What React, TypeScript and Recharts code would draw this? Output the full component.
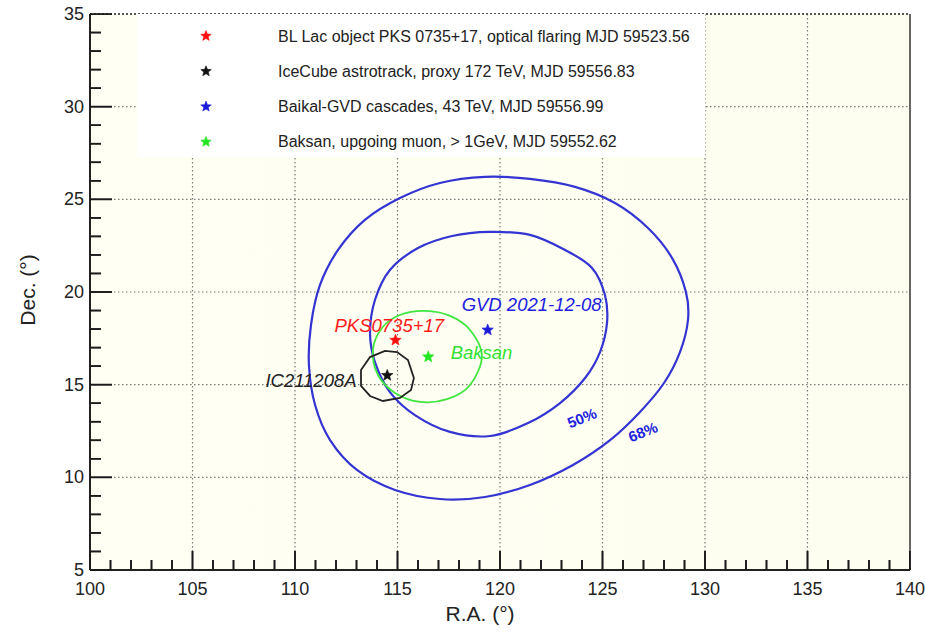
import React from 'react';
import { ScatterChart, Scatter, XAxis, YAxis, CartesianGrid, ReferenceLine, Legend } from 'recharts';

const FONT = '"Liberation Sans", Arial, Helvetica, sans-serif';

// ---- axis ticks ----
const raTicks = [100, 101, 102, 103, 104, 105, 106, 107, 108, 109, 110, 111, 112, 113, 114, 115, 116, 117, 118, 119, 120, 121, 122, 123, 124, 125, 126, 127, 128, 129, 130, 131, 132, 133, 134, 135, 136, 137, 138, 139, 140];
const raLabelTicks = [100, 105, 110, 115, 120, 125, 130, 135, 140];
const decTicks = [5, 6, 7, 8, 9, 10, 11, 12, 13, 14, 15, 16, 17, 18, 19, 20, 21, 22, 23, 24, 25, 26, 27, 28, 29, 30, 31, 32, 33, 34, 35];
const decLabelTicks = [5, 10, 15, 20, 25, 30, 35];
const raGrid = [105, 110, 115, 120, 125, 130, 135];
const decGrid = [10, 15, 20, 25, 30, 35];

// ---- sources ----
const blLacPos = [{ ra: 114.9, dec: 17.4 }];
const iceCubePos = [{ ra: 114.5, dec: 15.5 }];
const gvdPos = [{ ra: 119.4, dec: 17.95 }];
const baksanPos = [{ ra: 116.5, dec: 16.5 }];

// ---- contours (RA, Dec) ----
const gvd68 = [
  { ra: 119.27, dec: 26.21 }, { ra: 121.46, dec: 26.1 }, { ra: 123.66, dec: 25.67 }, { ra: 125.61, dec: 24.8 },
  { ra: 127.22, dec: 23.45 }, { ra: 128.39, dec: 21.84 }, { ra: 129.07, dec: 20.0 }, { ra: 129.17, dec: 18.49 },
  { ra: 128.78, dec: 16.76 }, { ra: 128.0, dec: 15.09 }, { ra: 126.83, dec: 13.53 }, { ra: 125.37, dec: 12.01 },
  { ra: 123.56, dec: 10.67 }, { ra: 121.46, dec: 9.59 }, { ra: 119.27, dec: 8.94 }, { ra: 117.07, dec: 8.83 },
  { ra: 114.88, dec: 9.32 }, { ra: 113.02, dec: 10.4 }, { ra: 111.71, dec: 12.01 }, { ra: 110.98, dec: 13.9 },
  { ra: 110.68, dec: 16.06 }, { ra: 110.78, dec: 18.22 }, { ra: 111.22, dec: 20.38 }, { ra: 112.1, dec: 22.27 },
  { ra: 113.41, dec: 23.89 }, { ra: 115.12, dec: 25.07 }, { ra: 117.07, dec: 25.88 },
];
const gvd50 = [
  { ra: 119.51, dec: 23.24 }, { ra: 121.46, dec: 23.08 }, { ra: 123.17, dec: 22.27 }, { ra: 124.49, dec: 21.3 },
  { ra: 125.12, dec: 19.84 }, { ra: 125.22, dec: 18.33 }, { ra: 124.88, dec: 16.76 }, { ra: 124.15, dec: 15.36 },
  { ra: 122.93, dec: 14.01 }, { ra: 121.37, dec: 12.93 }, { ra: 119.51, dec: 12.23 }, { ra: 117.56, dec: 12.45 },
  { ra: 115.85, dec: 13.36 }, { ra: 114.63, dec: 14.6 }, { ra: 113.9, dec: 16.22 }, { ra: 113.66, dec: 17.79 },
  { ra: 113.9, dec: 19.57 }, { ra: 114.63, dec: 21.19 }, { ra: 116.0, dec: 22.37 }, { ra: 117.66, dec: 23.02 },
];
const baksanContour = [
  { ra: 119.12, dec: 16.55 }, { ra: 118.54, dec: 17.95 }, { ra: 117.56, dec: 18.71 }, { ra: 116.34, dec: 18.98 },
  { ra: 115.12, dec: 18.76 }, { ra: 114.24, dec: 18.06 }, { ra: 113.8, dec: 16.87 }, { ra: 114.05, dec: 15.52 },
  { ra: 114.88, dec: 14.55 }, { ra: 116.1, dec: 14.07 }, { ra: 117.46, dec: 14.23 }, { ra: 118.54, dec: 14.98 },
];
const iceCubeContour = [
  { ra: 115.8, dec: 15.36 }, { ra: 115.51, dec: 16.33 }, { ra: 114.98, dec: 16.76 }, { ra: 114.39, dec: 16.82 },
  { ra: 113.66, dec: 16.49 }, { ra: 113.22, dec: 15.79 }, { ra: 113.22, dec: 14.93 }, { ra: 113.66, dec: 14.39 },
  { ra: 114.29, dec: 14.12 }, { ra: 115.12, dec: 14.28 }, { ra: 115.66, dec: 14.71 },
];

// ---- annotation anchors ----
const pksLabelPos = [{ ra: 114.6, dec: 18.17 }];
const gvdLabelPos = [{ ra: 121.54, dec: 19.3 }];
const baksanLabelPos = [{ ra: 119.1, dec: 16.71 }];
const icLabelPos = [{ ra: 110.78, dec: 15.2 }];
const cl50LabelPos = [{ ra: 124.0, dec: 13.2 }];
const cl68LabelPos = [{ ra: 126.98, dec: 12.45 }];

// ---- legend ----
const legendLabels = [
  'BL Lac object PKS 0735+17, optical flaring MJD 59523.56',
  'IceCube astrotrack, proxy 172 TeV, MJD 59556.83',
  'Baikal-GVD cascades, 43 TeV, MJD 59556.99',
  'Baksan, upgoing muon, > 1GeV, MJD 59552.62',
];
const legendColors = ['#ff1010', '#111111', '#1a1ad8', '#22e622'];

const PLOT_L = 90;
const PLOT_T = 14;
const PLOT_R = 910;
const PLOT_B = 570;

// tick mark anchors on the axes (built from the tick arrays)
const xTickMarks = raTicks.map((v) => ({ ra: v, dec: 5, major: v % 5 === 0 }));
const yTickMarks = decTicks.map((v) => ({ ra: 100, dec: v, major: v % 5 === 0 }));

function starPath(cx: number, cy: number, R: number, r: number) {
  let d = '';
  for (let i = 0; i < 10; i++) {
    const a = -Math.PI / 2 + (i * Math.PI) / 5;
    const rad = i % 2 === 0 ? R : r;
    d += (i === 0 ? 'M' : 'L') + (cx + rad * Math.cos(a)).toFixed(2) + ',' + (cy + rad * Math.sin(a)).toFixed(2);
  }
  return d + 'Z';
}

const closedSpline = (context: any) => {
  let pts: number[][] = [];
  return {
    areaStart() {},
    areaEnd() {},
    lineStart() { pts = []; },
    point(x: number, y: number) { pts.push([+x, +y]); },
    lineEnd() {
      const n = pts.length;
      if (!n) return;
      context.moveTo(pts[0][0], pts[0][1]);
      for (let i = 0; i < n; i++) {
        const p0 = pts[(i - 1 + n) % n], p1 = pts[i], p2 = pts[(i + 1) % n], p3 = pts[(i + 2) % n];
        context.bezierCurveTo(
          p1[0] + (p2[0] - p0[0]) / 6, p1[1] + (p2[1] - p0[1]) / 6,
          p2[0] - (p3[0] - p1[0]) / 6, p2[1] - (p3[1] - p1[1]) / 6,
          p2[0], p2[1]
        );
      }
      context.closePath();
    },
  };
};

const closedLinear = (context: any) => {
  let first = true;
  return {
    areaStart() {},
    areaEnd() {},
    lineStart() { first = true; },
    point(x: number, y: number) {
      if (first) { context.moveTo(x, y); first = false; } else context.lineTo(x, y);
    },
    lineEnd() { context.closePath(); },
  };
};

const XTick = (props: any) => {
  const { x, payload } = props;
  const v = payload.value;
  const len = v % 5 === 0 ? 19 : 10;
  return (
    <g>
      <rect x={x - 0.8} y={PLOT_B - len} width={1.6} height={len} fill="#1a1a1a" />
      {raLabelTicks.includes(v) && (
        <text x={x} y={PLOT_B + 25} textAnchor="middle" fontFamily={FONT} fontSize={18} fill="#222">{v}</text>
      )}
    </g>
  );
};

const YTick = (props: any) => {
  const { y, payload } = props;
  const v = payload.value;
  const len = v % 5 === 0 ? 22 : 11;
  return (
    <g>
      <rect x={PLOT_L} y={y - 0.8} width={len} height={1.6} fill="#1a1a1a" />
      {decLabelTicks.includes(v) && (
        <text x={PLOT_L - 6} y={y + 6} textAnchor="end" fontFamily={FONT} fontSize={18} fill="#222">{v}</text>
      )}
    </g>
  );
};

const xTickShape = (p: any) => {
  const len = p.payload && p.payload.major ? 19 : 10;
  return <rect x={p.cx - 0.8} y={p.cy - len} width={1.6} height={len} fill="#1a1a1a" />;
};
const yTickShape = (p: any) => {
  const len = p.payload && p.payload.major ? 22 : 11;
  return <rect x={p.cx} y={p.cy - 0.8} width={len} height={1.6} fill="#1a1a1a" />;
};

const none = () => <g />;

const star = (color: string) => (p: any) => (
  <path d={starPath(p.cx, p.cy, 6, 2.6)} fill={color} stroke={color} strokeWidth={0.6} />
);

const label = (text: string, color: string, size: number, opts: any = {}) => (p: any) => (
  <text
    x={p.cx}
    y={p.cy}
    dy="0.35em"
    textAnchor="middle"
    fontFamily={FONT}
    fontSize={size}
    fontStyle={opts.italic ? 'italic' : 'normal'}
    fontWeight={opts.bold ? 'bold' : 'normal'}
    fill={color}
    transform={opts.rotate ? `rotate(${opts.rotate} ${p.cx} ${p.cy})` : undefined}
  >
    {text}
  </text>
);

const LegendBox = () => (
  <div style={{ width: 568, height: 143, background: '#ffffff' }}>
    <svg width={568} height={143}>
      {legendLabels.map((t, i) => {
        const cy = 22 + i * 35.3;
        return (
          <g key={t}>
            <path d={starPath(69, cy, 5.5, 2.4)} fill={legendColors[i]} stroke={legendColors[i]} strokeWidth={0.6} />
            <text x={141} y={cy + 5.5} fontFamily={FONT} fontSize={16} fill="#222">{t}</text>
          </g>
        );
      })}
    </svg>
  </div>
);

export default function App() {
  return (
    <div style={{ position: 'absolute', left: 0, top: 0, width: 925, height: 633, background: '#fff' }}>
      <div
        style={{
          position: 'absolute',
          left: PLOT_L,
          top: PLOT_T,
          width: PLOT_R - PLOT_L,
          height: PLOT_B - PLOT_T,
          background: 'linear-gradient(to right, #fffff3, #fdfdf0)',
        }}
      />
      <div style={{ position: 'absolute', left: 0, top: 0 }}>
        <ScatterChart width={925} height={633} margin={{ top: 14, right: 15, bottom: 0, left: 0 }}>
          <CartesianGrid
            stroke="#7a7a7a"
            strokeDasharray="1.5 2.5"
            strokeWidth={1.2}
            horizontalValues={decGrid}
            verticalValues={raGrid}
          />
          <XAxis
            type="number"
            dataKey="ra"
            domain={[100, 140]}
            ticks={raTicks}
            interval={0}
            allowDataOverflow
            height={63}
            axisLine={{ stroke: '#222', strokeWidth: 2 }}
            tickLine={false}
            tick={(p: any) => <XTick {...p} />}
            label={{
              content: () => (
                <text x={480} y={621} textAnchor="middle" fontFamily={FONT} fontSize={21} fill="#222">R.A. (°)</text>
              ),
            }}
          />
          <YAxis
            type="number"
            dataKey="dec"
            domain={[5, 35]}
            ticks={decTicks}
            interval={0}
            allowDataOverflow
            width={90}
            axisLine={{ stroke: '#222', strokeWidth: 2 }}
            tickLine={false}
            tick={(p: any) => <YTick {...p} />}
            label={{
              content: () => (
                <text x={35} y={290} textAnchor="middle" fontFamily={FONT} fontSize={21} fill="#222" transform="rotate(-90 35 290)">Dec. (°)</text>
              ),
            }}
          />
          <ReferenceLine x={140} stroke="#333" strokeWidth={1.5} />
          <ReferenceLine y={35} stroke="#555" strokeWidth={2} strokeDasharray="2 2" />

          <Scatter data={xTickMarks} shape={xTickShape} isAnimationActive={false} legendType="none" />
          <Scatter data={yTickMarks} shape={yTickShape} isAnimationActive={false} legendType="none" />

          <Scatter data={gvd68} shape={none} line={{ stroke: '#3434d2', strokeWidth: 2.2 }} lineJointType={closedSpline as any} isAnimationActive={false} legendType="none" />
          <Scatter data={gvd50} shape={none} line={{ stroke: '#3434d2', strokeWidth: 2.2 }} lineJointType={closedSpline as any} isAnimationActive={false} legendType="none" />
          <Scatter data={baksanContour} shape={none} line={{ stroke: '#3ee63e', strokeWidth: 1.8 }} lineJointType={closedSpline as any} isAnimationActive={false} legendType="none" />
          <Scatter data={iceCubeContour} shape={none} line={{ stroke: '#222', strokeWidth: 1.8 }} lineJointType={closedLinear as any} isAnimationActive={false} legendType="none" />

          <Scatter name={legendLabels[0]} data={blLacPos} shape={star('#ff1010')} isAnimationActive={false} />
          <Scatter name={legendLabels[1]} data={iceCubePos} shape={star('#111')} isAnimationActive={false} />
          <Scatter name={legendLabels[2]} data={gvdPos} shape={star('#1a1ad8')} isAnimationActive={false} />
          <Scatter name={legendLabels[3]} data={baksanPos} shape={star('#22e622')} isAnimationActive={false} />

          <Scatter data={pksLabelPos} shape={label('PKS0735+17', '#ff1a1a', 18.5, { italic: true })} isAnimationActive={false} legendType="none" />
          <Scatter data={gvdLabelPos} shape={label('GVD 2021-12-08', '#2020e0', 18.5, { italic: true })} isAnimationActive={false} legendType="none" />
          <Scatter data={baksanLabelPos} shape={label('Baksan', '#33e033', 18.5, { italic: true })} isAnimationActive={false} legendType="none" />
          <Scatter data={icLabelPos} shape={label('IC211208A', '#222', 18.5, { italic: true })} isAnimationActive={false} legendType="none" />
          <Scatter data={cl50LabelPos} shape={label('50%', '#2020e0', 15, { bold: true, rotate: -22 })} isAnimationActive={false} legendType="none" />
          <Scatter data={cl68LabelPos} shape={label('68%', '#2020e0', 15, { bold: true, rotate: -22 })} isAnimationActive={false} legendType="none" />

          <Legend
            layout="vertical"
            align="center"
            verticalAlign="middle"
            content={() => <LegendBox />}
            wrapperStyle={{ position: 'absolute', left: 137, top: 14, width: 568, height: 143, margin: 0, padding: 0 }}
          />
        </ScatterChart>
      </div>
    </div>
  );
}
